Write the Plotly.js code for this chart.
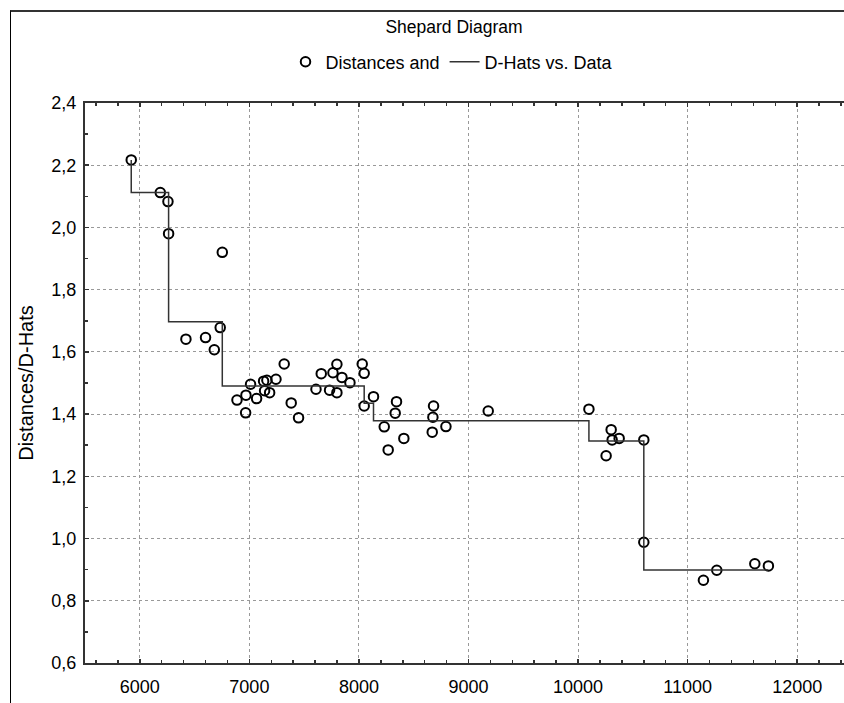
<!DOCTYPE html>
<html>
<head>
<meta charset="utf-8">
<script src="https://cdn.plot.ly/plotly-3.0.1.min.js"></script>
<style>
  html, body { margin: 0; padding: 0; background: #fff; overflow: hidden; }
  #wrap { position: relative; width: 844px; height: 703px; overflow: hidden; }
  #frame { position: absolute; left: 10px; top: 10px; width: 900px; height: 760px;
           border-left: 1.5px solid #000; border-top: 2px solid #333; pointer-events: none; }
</style>
</head>
<body>
<div id="wrap">
  <div id="chart"></div>
  <div id="frame"></div>
</div>
<script>
// Data (x = data, y = distances, dhat = D-hat values)
const distX = [5922, 6187, 6257, 6263, 6421, 6600, 6680, 6734, 6753,
  6887, 6966, 6969, 7011, 7066, 7130, 7139, 7160, 7185, 7243, 7318, 7382, 7449,
  7608, 7656, 7732, 7763, 7799, 7799, 7845, 7918, 8030, 8048, 8048, 8133,
  8231, 8267, 8331, 8343, 8410, 8669, 8675, 8681, 8794, 9180, 10099,
  10256, 10302, 10311, 10375, 10600, 10600, 11144, 11266, 11613, 11737];
const distY = [2.217, 2.112, 2.083, 1.980, 1.641, 1.646, 1.607, 1.678, 1.920,
  1.445, 1.404, 1.461, 1.496, 1.450, 1.506, 1.475, 1.509, 1.469, 1.512, 1.561, 1.436, 1.388,
  1.480, 1.530, 1.477, 1.533, 1.560, 1.469, 1.518, 1.501, 1.561, 1.531, 1.426, 1.456,
  1.359, 1.285, 1.403, 1.440, 1.322, 1.342, 1.390, 1.426, 1.360, 1.410, 1.416,
  1.266, 1.350, 1.317, 1.322, 1.317, 0.988, 0.866, 0.898, 0.919, 0.912];
const dhatY = [2.217, 2.112, 2.112, 2.112, 1.697, 1.697, 1.697, 1.697, 1.697,
  1.490, 1.490, 1.490, 1.490, 1.490, 1.490, 1.490, 1.490, 1.490, 1.490, 1.490, 1.490, 1.490,
  1.490, 1.490, 1.490, 1.490, 1.490, 1.490, 1.490, 1.490, 1.490, 1.490, 1.435, 1.435,
  1.379, 1.379, 1.379, 1.379, 1.379, 1.379, 1.379, 1.379, 1.379, 1.379, 1.379,
  1.3135, 1.3135, 1.3135, 1.3135, 1.3135, 0.899, 0.899, 0.899, 0.899, 0.899];

const chartTitle = 'Shepard Diagram';
const seriesNames = ['Distances and', 'D-Hats vs. Data'];
const yTitle = 'Distances/D-Hats';

const font = '"Liberation Sans", Arial, sans-serif';

const W = 880, H = 703;

const traces = [
  {
    type: 'scatter', mode: 'markers', name: seriesNames[0],
    x: distX, y: distY,
    marker: { symbol: 'circle-open', size: 9.5, color: '#000', line: { width: 2, color: '#000' } }
  },
  {
    type: 'scatter', mode: 'lines', name: seriesNames[1],
    x: distX, y: dhatY,
    line: { shape: 'vh', color: '#333', width: 1.5 }
  }
];

const axisCommon = {
  showline: true, linecolor: '#333', linewidth: 2, mirror: 'ticks',
  ticks: 'inside', ticklen: 4, tickwidth: 1.5, tickcolor: '#333',
  showgrid: true, gridcolor: '#999', griddash: 'dot', gridwidth: 1,
  zeroline: false,
  tickfont: { family: font, size: 18, color: '#000' }
};

const layout = {
  width: W, height: H,
  margin: { l: 85, r: 28, t: 103, b: 40 },
  paper_bgcolor: '#fff', plot_bgcolor: '#fff',
  separators: ',.',
  showlegend: true,
  title: {
    text: chartTitle, font: { family: font, size: 17.5, color: '#000' },
    xref: 'container', x: 454 / W, xanchor: 'center',
    yref: 'container', y: 1 - 27 / H, yanchor: 'middle'
  },
  legend: {
    orientation: 'h', xref: 'container', x: 452 / W, xanchor: 'center',
    yref: 'container', y: 1 - 62 / H, yanchor: 'middle',
    font: { family: font, size: 18, color: '#000' },
    bgcolor: 'rgba(0,0,0,0)', itemwidth: 30
  },
  xaxis: Object.assign({}, axisCommon, {
    range: [5500, 12500], tick0: 6000, dtick: 1000, tickformat: 'd',
    ticklabelstandoff: 6,
    minor: { dtick: 200, tick0: 6000, ticks: 'inside', ticklen: 3, tickcolor: '#333', showgrid: false }
  }),
  yaxis: Object.assign({}, axisCommon, {
    range: [0.6, 2.4], tick0: 0.6, dtick: 0.2, tickformat: '.1f',
    ticklabelstandoff: 3,
    minor: { dtick: 0.1, tick0: 0.6, ticks: 'inside', ticklen: 3, tickcolor: '#333', showgrid: false },
    title: { text: yTitle, font: { family: font, size: 20, color: '#000' }, standoff: 12 }
  })
};

Plotly.newPlot('chart', traces, layout, { displayModeBar: false, staticPlot: true });
</script>
</body>
</html>
